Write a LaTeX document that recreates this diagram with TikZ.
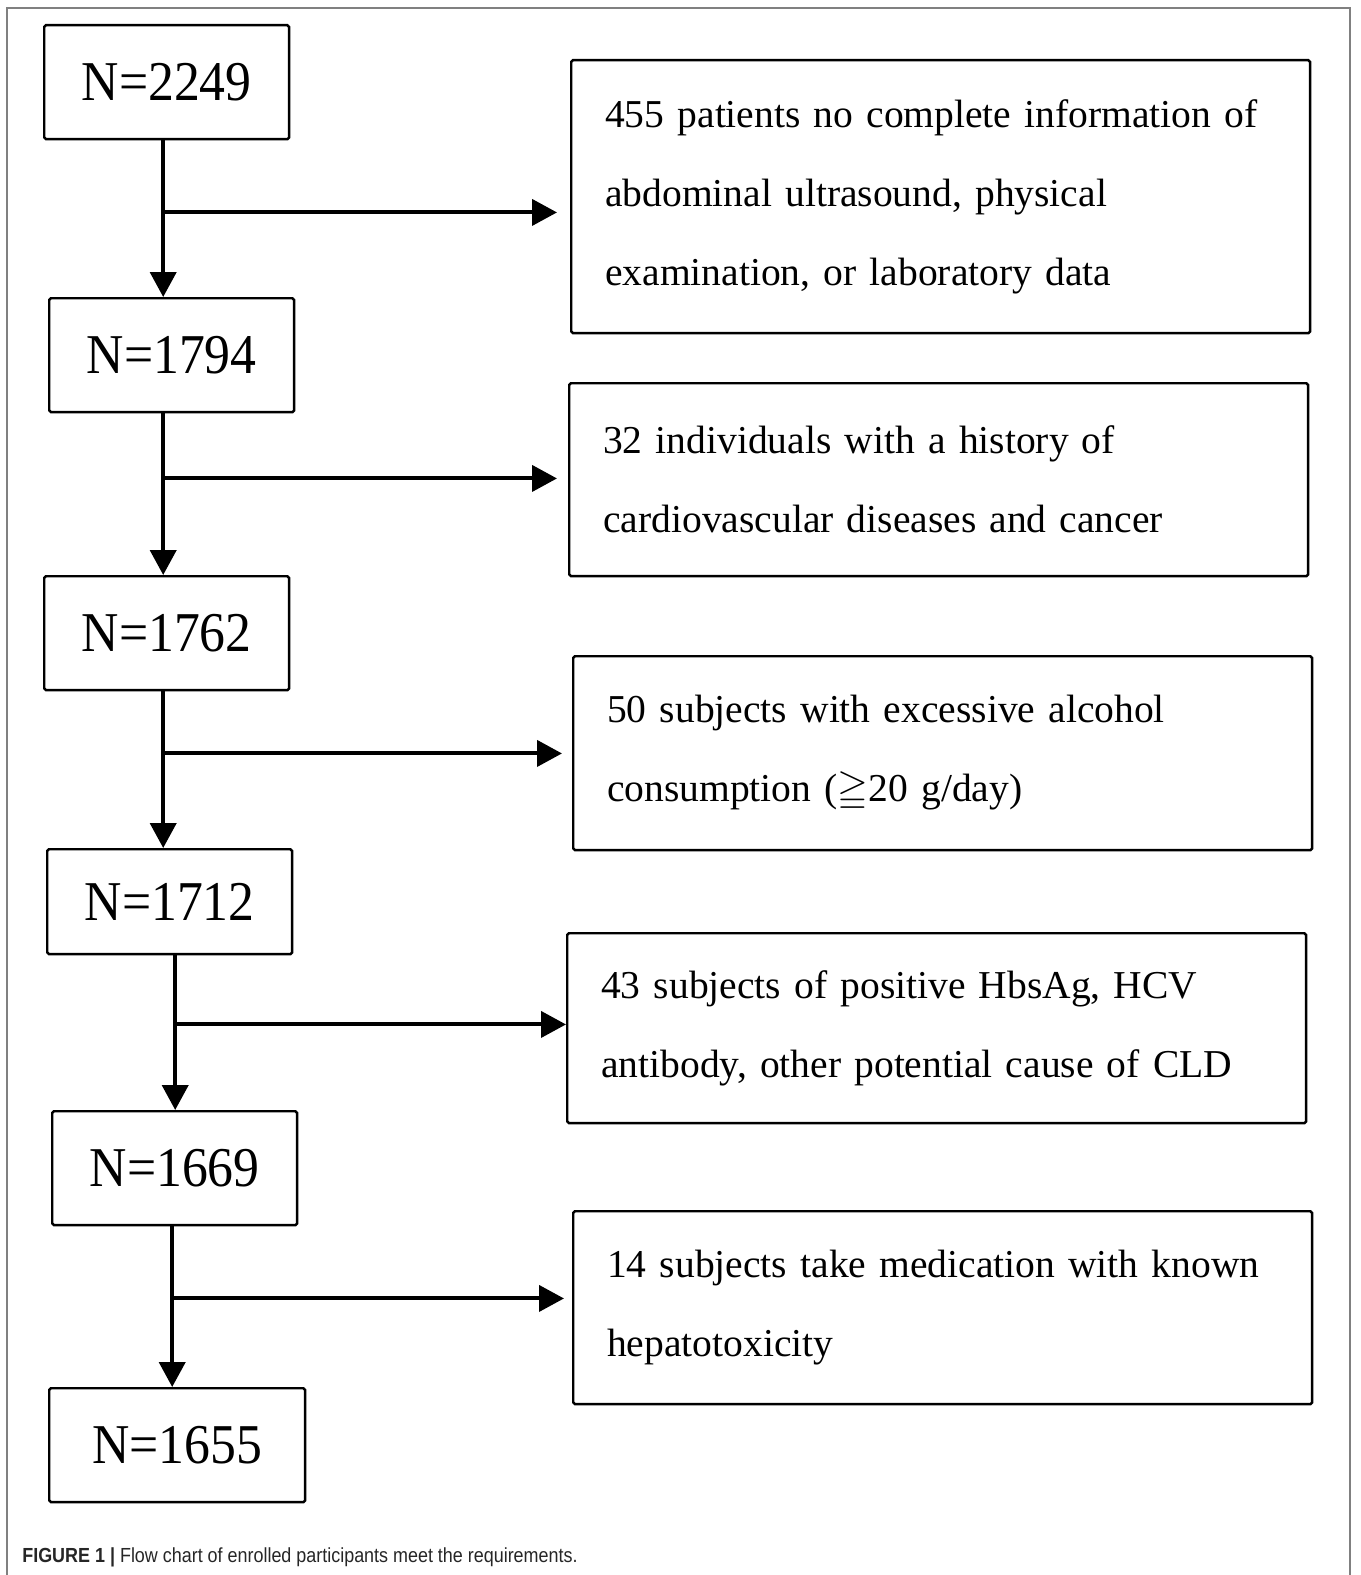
\documentclass[tikz,border=0pt]{standalone}
\usepackage{amssymb}
\usepackage{fontspec}
\setmainfont{Liberation Serif}
\newfontfamily\countfont[FakeStretch=0.92]{Liberation Serif}
\newfontfamily\captionfont[FakeStretch=0.88]{Liberation Sans}
\usetikzlibrary{arrows.meta,positioning}

\tikzset{
  countbox/.style={draw, line width=1.4pt, rounded corners=1pt, anchor=north west,
    minimum width=4.9cm, minimum height=2.28cm, inner sep=0pt,
    font=\countfont\fontsize{32}{38}\selectfont},
  exclbox/.style={draw, line width=1.4pt, rounded corners=1pt, anchor=north west,
    text width=13.42cm, inner xsep=0.68cm, inner ysep=0pt, align=left,
    font=\fontsize{22.5}{45}\selectfont},
  flow/.style={line width=2.3pt, -{Triangle[length=0.5cm,width=0.52cm]}}
}

\begin{document}
\begin{tikzpicture}[x=0.02cm, y=-0.02cm]
    \useasboundingbox (0,0) rectangle (1360,1575);
    % outer frame (open at the bottom)
    \draw[gray, line width=1.2pt] (7,1575) -- (7,8) -- (1350,8) -- (1350,1575);

    % left column: remaining counts
    \node[countbox] (n2249) at (43,24) {N=2249};
    \node[countbox] (n1794) at (48,297) {N=1794};
    \node[countbox] (n1762) at (43,575) {N=1762};
    \node[countbox, minimum height=2.1cm] (n1712) at (46,848) {N=1712};
    \node[countbox] (n1669) at (51,1110) {N=1669};
    \node[countbox, minimum width=5.12cm] (n1655) at (48,1387) {N=1655};

    % right column: exclusions
    \node[exclbox, minimum height=5.46cm] (ex1) at (570,59)
      {455 patients no complete information of\\
       abdominal ultrasound, physical\\
       examination, or laboratory data};
    \node[exclbox, minimum height=3.86cm] (ex2) at (568,382)
      {32 individuals with a history of\\
       cardiovascular diseases and cancer};
    \node[exclbox, minimum height=3.88cm] (ex3) at (572,655)
      {50 subjects with excessive alcohol\\
       consumption ($\geqq$20 g/day)};
    \node[exclbox, minimum height=3.8cm] (ex4) at (566,932)
      {43 subjects of positive HbsAg, HCV\\
       antibody, other potential cause of CLD};
    \node[exclbox, minimum height=3.86cm] (ex5) at (572,1210)
      {14 subjects take medication with known\\
       hepatotoxicity};

    % trunk start points and branch points
    \coordinate (s1) at ([xshift=-0.07cm]n2249.south);
    \coordinate (s2) at ([xshift=-0.17cm]n1794.south);
    \coordinate (s3) at ([xshift=-0.07cm]n1762.south);
    \coordinate (s4) at ([xshift=0.11cm]n1712.south);
    \coordinate (s5) at ([xshift=-0.05cm]n1669.south);
    \path (s1) ++(0,72) coordinate (b1);
    \path (s2) ++(0,65) coordinate (b2);
    \path (s3) ++(0,62) coordinate (b3);
    \path (s4) ++(0,69) coordinate (b4);
    \path (s5) ++(0,72) coordinate (b5);

    \draw[flow] (s1) -- (s1 |- n1794.north);
    \draw[flow] (s2) -- (s2 |- n1762.north);
    \draw[flow] (s3) -- (s3 |- n1712.north);
    \draw[flow] (s4) -- (s4 |- n1669.north);
    \draw[flow] (s5) -- (s5 |- n1655.north);

    \draw[flow, shorten >=0.26cm] (b1) -- (b1 -| ex1.west);
    \draw[flow, shorten >=0.22cm] (b2) -- (b2 -| ex2.west);
    \draw[flow, shorten >=0.2cm] (b3) -- (b3 -| ex3.west);
    \draw[flow] (b4) -- (b4 -| ex4.west);
    \draw[flow, shorten >=0.16cm] (b5) -- (b5 -| ex5.west);

    \node[anchor=base west, inner sep=0pt, text=black!85,
          font=\captionfont\fontsize{11.6}{13}\selectfont] (caption) at (22,1562)
      {\textbf{FIGURE 1 |} Flow chart of enrolled participants meet the requirements.};
\end{tikzpicture}
\end{document}
